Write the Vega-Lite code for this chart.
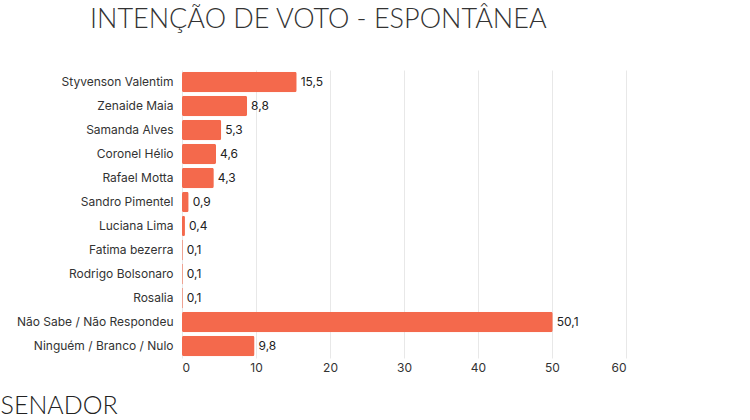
{
  "$schema": "https://vega.github.io/schema/vega-lite/v6.json",
  "autosize": "none",
  "width": 444,
  "height": 288,
  "padding": {"left": 182, "top": 70, "right": 124, "bottom": 62},
  "background": "white",
  "title": {
    "text": "INTENÇÃO DE VOTO - ESPONTÂNEA",
    "anchor": "start",
    "frame": "group",
    "dx": -92,
    "offset": 36,
    "font": "Lato",
    "fontSize": 27,
    "fontWeight": 300,
    "color": "#333333"
  },
  "config": {
    "view": {"stroke": null},
    "locale": {
      "number": {"decimal": ",", "thousands": ".", "grouping": [3], "currency": ["R$", ""]}
    }
  },
  "data": {
    "values": [
      {"nome": "Styvenson Valentim", "pct": 15.5},
      {"nome": "Zenaide Maia", "pct": 8.8},
      {"nome": "Samanda Alves", "pct": 5.3},
      {"nome": "Coronel Hélio", "pct": 4.6},
      {"nome": "Rafael Motta", "pct": 4.3},
      {"nome": "Sandro Pimentel", "pct": 0.9},
      {"nome": "Luciana Lima", "pct": 0.4},
      {"nome": "Fatima bezerra", "pct": 0.1},
      {"nome": "Rodrigo Bolsonaro", "pct": 0.1},
      {"nome": "Rosalia", "pct": 0.1},
      {"nome": "Não Sabe / Não Respondeu", "pct": 50.1},
      {"nome": "Ninguém / Branco / Nulo", "pct": 9.8}
    ]
  },
  "encoding": {
    "y": {
      "field": "nome",
      "type": "nominal",
      "sort": null,
      "scale": {"paddingInner": 0.14, "paddingOuter": 0.07},
      "axis": {
        "title": null,
        "domain": false,
        "ticks": false,
        "labelPadding": 9,
        "labelFont": "Inter",
        "labelFontSize": 12,
        "labelColor": "#333333"
      }
    },
    "x": {
      "field": "pct",
      "type": "quantitative",
      "scale": {"domain": [0, 60], "nice": false},
      "axis": {
        "values": [0, 10, 20, 30, 40, 50, 60],
        "domain": false,
        "ticks": false,
        "labelPadding": 4,
        "labelFont": "Inter",
        "labelFontSize": 12,
        "labelColor": "#333333",
        "gridColor": "#e8e8e8",
        "title": "SENADOR",
        "titleFont": "Lato",
        "titleFontSize": 25,
        "titleFontWeight": 300,
        "titleColor": "#222222",
        "titleAnchor": "start",
        "titleAlign": "left",
        "titleBaseline": "alphabetic",
        "titleX": -182,
        "titleY": 55
      }
    }
  },
  "layer": [
    {
      "mark": {"type": "bar", "color": "#F4694C", "cornerRadius": 2}
    },
    {
      "mark": {"type": "text", "align": "left", "dx": 4, "font": "Inter", "fontSize": 12, "color": "#222222"},
      "encoding": {
        "text": {"field": "pct", "type": "quantitative", "format": ".1f"}
      }
    }
  ]
}
